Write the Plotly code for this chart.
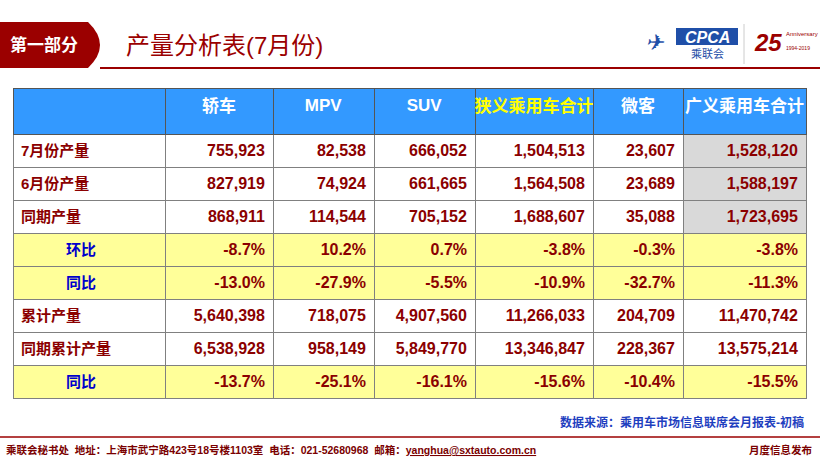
import plotly.graph_objects as go

columns = ["", "轿车", "MPV", "SUV", "狭义乘用车合计", "微客", "广义乘用车合计"]
row_labels = ["7月份产量", "6月份产量", "同期产量", "环比", "同比", "累计产量", "同期累计产量", "同比"]
sedan = ["755,923", "827,919", "868,911", "-8.7%", "-13.0%", "5,640,398", "6,538,928", "-13.7%"]
mpv = ["82,538", "74,924", "114,544", "10.2%", "-27.9%", "718,075", "958,149", "-25.1%"]
suv = ["666,052", "661,665", "705,152", "0.7%", "-5.5%", "4,907,560", "5,849,770", "-16.1%"]
narrow = ["1,504,513", "1,564,508", "1,688,607", "-3.8%", "-10.9%", "11,266,033", "13,346,847", "-15.6%"]
minivan = ["23,607", "23,689", "35,088", "-0.3%", "-32.7%", "204,709", "228,367", "-10.4%"]
broad = ["1,528,120", "1,588,197", "1,723,695", "-3.8%", "-11.3%", "11,470,742", "13,575,214", "-15.5%"]

W, H = 820, 461
ratio_rows = {3, 4, 7}
YEL, WHITE, GRAY = "#ffff99", "#ffffff", "#d9d9d9"
row_fill = [YEL if i in ratio_rows else WHITE for i in range(8)]
last_fill = [GRAY if i < 3 else (YEL if i in ratio_rows else WHITE) for i in range(8)]
labels_disp = ["<b>%s</b>" % (("\u3000\u3000\u3000" + t) if i in ratio_rows else t) for i, t in enumerate(row_labels)]
label_colors = ["#0000cc" if i in ratio_rows else "#8b0000" for i in range(8)]
bold = lambda lst: ["<b>%s</b>" % v for v in lst]

x0, x1, ytop = 13, 806, 88
widths = [152, 108, 101, 101, 118, 90, 123]
header_colors = ["white"] * 7
header_colors[4] = "#ffff00"
font = "Liberation Sans, Arial, Noto Sans CJK SC"

fig = go.Figure(go.Table(
    domain=dict(x=[x0 / W, x1 / W], y=[0, 1 - ytop / H]),
    columnwidth=widths,
    header=dict(values=["<b>%s</b>" % c for c in columns], height=46,
                fill_color="#3399ff", line=dict(color="#555555", width=1),
                align="center", font=dict(family=font, size=17, color=header_colors)),
    cells=dict(values=[labels_disp, bold(sedan), bold(mpv), bold(suv), bold(narrow),
                       bold(minivan), bold(broad)], height=24,
               fill_color=[row_fill] * 6 + [last_fill],
               line=dict(color="#808080", width=1),
               align=["left"] + ["right"] * 6,
               font=dict(family=font, size=[15, 16, 16, 16, 16, 16, 16],
                         color=[label_colors] + ["#8b0000"] * 6)),
))

shapes = [
    dict(type="path", xref="paper", yref="paper",
         path="M 0 %f L %f %f Q %f %f %f %f L 0 %f Z" % (
             1 - 22 / H, 88 / W, 1 - 22 / H, 112 / W, 1 - 45 / H, 88 / W, 1 - 68 / H, 1 - 68 / H),
         fillcolor="#9b0000", line=dict(width=0)),
    dict(type="line", xref="paper", yref="paper", x0=100 / W, x1=1, y0=1 - 68 / H, y1=1 - 68 / H,
         line=dict(color="#9b0000", width=2)),
    dict(type="line", xref="paper", yref="paper", x0=0, x1=1, y0=1 - 437 / H, y1=1 - 437 / H,
         line=dict(color="#9b0000", width=1.5)),
    dict(type="rect", xref="paper", yref="paper", x0=676 / W, x1=738 / W, y0=1 - 45 / H, y1=1 - 28 / H,
         fillcolor="#1f4fa8", line=dict(width=0)),
    dict(type="line", xref="paper", yref="paper", x0=744 / W, x1=744 / W, y0=1 - 64 / H, y1=1 - 24 / H,
         line=dict(color="#cccccc", width=1)),
]

def ann(x, y, text, size, color, anchor="left", bold=False):
    return dict(xref="paper", yref="paper", x=x / W, y=1 - y / H, text=("<b>%s</b>" % text) if bold else text,
                showarrow=False, xanchor=anchor, yanchor="middle",
                font=dict(family=font, size=size, color=color))

annotations = [
    ann(8, 45, "第一部分", 17, "white", bold=True),
    ann(124, 45, "产量分析表(7月份)", 24, "#9b0000"),
    ann(707, 37, "<i>CPCA</i>", 16, "white", "center", True),
    ann(707, 54, "乘联会", 11, "#1f4fa8", "center"),
    ann(655, 42, "<i>✈</i>", 22, "#1f4fa8", "center"),
    ann(768, 42, "<i>25</i>", 24, "#9b0000", "center", True),
    ann(784, 34, "Anniversary", 6, "#9b0000", "left"),
    ann(784, 48, "1994-2019", 5, "#9b0000", "left"),
    ann(806, 422, "数据来源：乘用车市场信息联席会月报表-初稿", 12, "#1f3fbf", "right", True),
    ann(4, 450, "乘联会秘书处  地址：上海市武宁路423号18号楼1103室  电话：021-52680968  邮箱：<u>yanghua@sxtauto.com.cn</u>",
        10.5, "#7a0000", "left", True),
    ann(814, 450, "月度信息发布", 10.5, "#7a0000", "right", True),
]

fig.update_layout(width=W, height=H, margin=dict(l=0, r=0, t=0, b=0),
                  paper_bgcolor="white", shapes=shapes, annotations=annotations)
fig.write_html("out.html", config={"displayModeBar": False},
               post_script="document.body.style.margin='0';document.body.style.overflow='hidden';")
